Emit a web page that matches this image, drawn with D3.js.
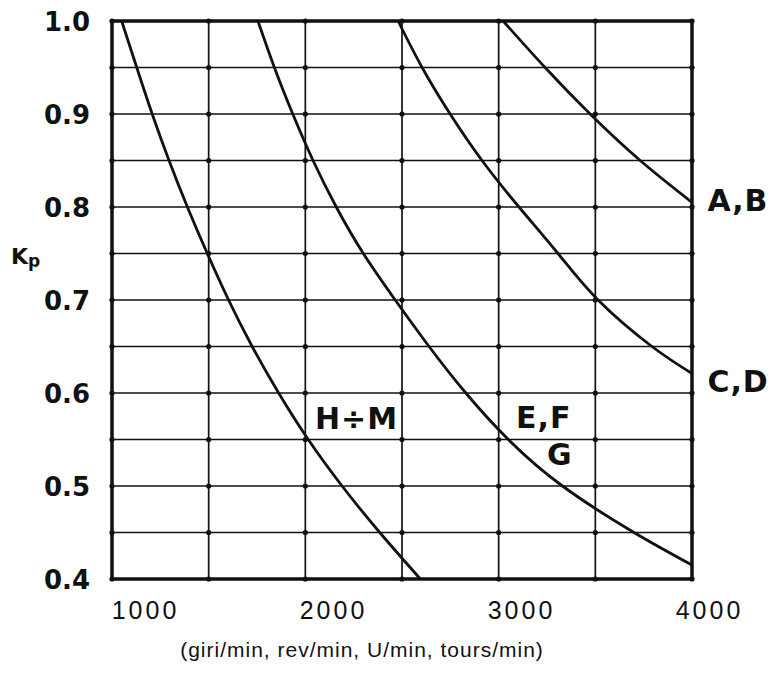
<!DOCTYPE html>
<html>
<head>
<meta charset="utf-8">
<script src="https://cdn.jsdelivr.net/npm/d3@7"></script>
<style>
body { margin: 0; background: #fff; }
</style>
</head>
<body>
<script>
// chart data
var xGrid = [1000, 1500, 2000, 2500, 3000, 3500, 4000];
var yGrid = [0.4, 0.45, 0.5, 0.55, 0.6, 0.65, 0.7, 0.75, 0.8, 0.85, 0.9, 0.95, 1.0];
var xTicks = [1000, 2000, 3000, 4000];
var yTicks = [0.4, 0.5, 0.6, 0.7, 0.8, 0.9, 1.0];
var xTitle = "(giri/min, rev/min, U/min, tours/min)";

var curveHM = [[1050,1.0],[1128,0.95],[1208,0.90],[1295,0.85],[1390,0.80],[1493,0.75],[1603,0.70],[1725,0.65],[1862,0.60],[2015,0.55],[2190,0.50],[2385,0.45],[2595,0.40]];
var curveEFG = [[1755,1.0],[1840,0.95],[1935,0.90],[2040,0.85],[2160,0.80],[2300,0.75],[2465,0.70],[2640,0.65],[2830,0.60],[3050,0.55],[3330,0.50],[3700,0.45],[4000,0.415]];
var curveCD = [[2480,1.0],[2604,0.95],[2749,0.90],[2914,0.85],[3105,0.80],[3307,0.75],[3514,0.70],[3793,0.65],[4000,0.621]];
var curveAB = [[3023,1.0],[3240,0.95],[3473,0.90],[3732,0.85],[4000,0.805]];
var curves = [curveHM, curveEFG, curveCD, curveAB];

// curve labels: [text, rpm, Kp] (left end of the text, baseline)
var curveLabels = [["A,B", 4080, 0.796], ["C,D", 4080, 0.601], ["E,F", 3090, 0.562], ["G", 3250, 0.523], ["H\u00F7M", 2050, 0.561]];

var w = 780;
var h = 693;
var pLeft = 112, pRight = 692, pTop = 21, pBottom = 579;

var svg = d3.select("body")
			.append("svg")
			.attr("width", w)
			.attr("height", h);

var x_scale = d3.scaleLinear()
				.domain([1000, 4000])
				.range([pLeft, pRight]);

var y_scale = d3.scaleLinear()
				.domain([0.4, 1.0])
				.range([pBottom, pTop]);

// grid
svg.append("g")
	.selectAll("line")
	.data(xGrid)
	.enter()
	.append("line")
	.attr("x1", function(d){ return x_scale(d); })
	.attr("x2", function(d){ return x_scale(d); })
	.attr("y1", pTop)
	.attr("y2", pBottom)
	.attr("stroke", "#111")
	.attr("stroke-width", 1.7);

svg.append("g")
	.selectAll("line")
	.data(yGrid)
	.enter()
	.append("line")
	.attr("x1", pLeft)
	.attr("x2", pRight)
	.attr("y1", function(d){ return y_scale(d); })
	.attr("y2", function(d){ return y_scale(d); })
	.attr("stroke", "#111")
	.attr("stroke-width", 1.7);

// dots on every crossing
var crossings = [];
xGrid.forEach(function(a){
	yGrid.forEach(function(b){ crossings.push([a, b]); });
});
svg.append("g")
	.selectAll("circle")
	.data(crossings)
	.enter()
	.append("circle")
	.attr("cx", function(d){ return x_scale(d[0]); })
	.attr("cy", function(d){ return y_scale(d[1]); })
	.attr("r", 2.6)
	.attr("fill", "#111");

// frame
svg.append("rect")
	.attr("x", pLeft)
	.attr("y", pTop)
	.attr("width", pRight - pLeft)
	.attr("height", pBottom - pTop)
	.attr("fill", "none")
	.attr("stroke", "#111")
	.attr("stroke-width", 3.5);

// curves
var line = d3.line()
			.x(function(d){ return x_scale(d[0]); })
			.y(function(d){ return y_scale(d[1]); })
			.curve(d3.curveNatural);

svg.append("g")
	.selectAll("path")
	.data(curves)
	.enter()
	.append("path")
	.attr("d", line)
	.attr("fill", "none")
	.attr("stroke", "#111")
	.attr("stroke-width", 2.8);

// axes
var x_axis = d3.axisBottom(x_scale)
				.tickValues(xTicks)
				.tickSize(0)
				.tickPadding(22)
				.tickFormat(d3.format("d"));

var gx = svg.append("g")
			.attr("transform", "translate(0," + pBottom + ")")
			.call(x_axis);
gx.select(".domain").remove();
gx.selectAll("text")
	.attr("dx", function(d){ return 33 - (d - 1000) / 3000 * 16; })
	.style("font-family", "'Liberation Sans', Arial, sans-serif")
	.style("font-size", "25px")
	.style("letter-spacing", "3px")
	.attr("fill", "#111");

var y_axis = d3.axisLeft(y_scale)
				.tickValues(yTicks)
				.tickSize(0)
				.tickPadding(22)
				.tickFormat(d3.format(".1f"));

var gy = svg.append("g")
			.attr("transform", "translate(" + pLeft + ",0)")
			.call(y_axis);
gy.select(".domain").remove();
gy.selectAll("text")
	.attr("dy", "0.36em")
	.style("font-family", "'DejaVu Sans', sans-serif")
	.style("font-weight", "bold")
	.style("font-size", "26px")
	.attr("fill", "#111");

// axis titles
var kp = svg.append("text")
			.attr("x", 11)
			.attr("y", 264)
			.attr("fill", "#111")
			.style("font-family", "'DejaVu Sans', sans-serif")
			.style("font-weight", "bold")
			.style("font-size", "22px");
kp.append("tspan").text("K");
kp.append("tspan").attr("dy", 3).style("font-size", "17px").text("p");

svg.append("text")
	.attr("x", 362)
	.attr("y", 657)
	.attr("text-anchor", "middle")
	.attr("fill", "#111")
	.style("font-family", "'Liberation Sans', Arial, sans-serif")
	.style("font-size", "21px")
	.style("letter-spacing", "1px")
	.text(xTitle);

// curve names
svg.append("g")
	.selectAll("text")
	.data(curveLabels)
	.enter()
	.append("text")
	.attr("x", function(d){ return x_scale(d[1]); })
	.attr("y", function(d){ return y_scale(d[2]); })
	.attr("fill", "#111")
	.style("font-family", "'DejaVu Sans', sans-serif")
	.style("font-weight", "bold")
	.style("font-size", "30px")
	.style("letter-spacing", "1px")
	.text(function(d){ return d[0]; });
</script>
</body>
</html>
